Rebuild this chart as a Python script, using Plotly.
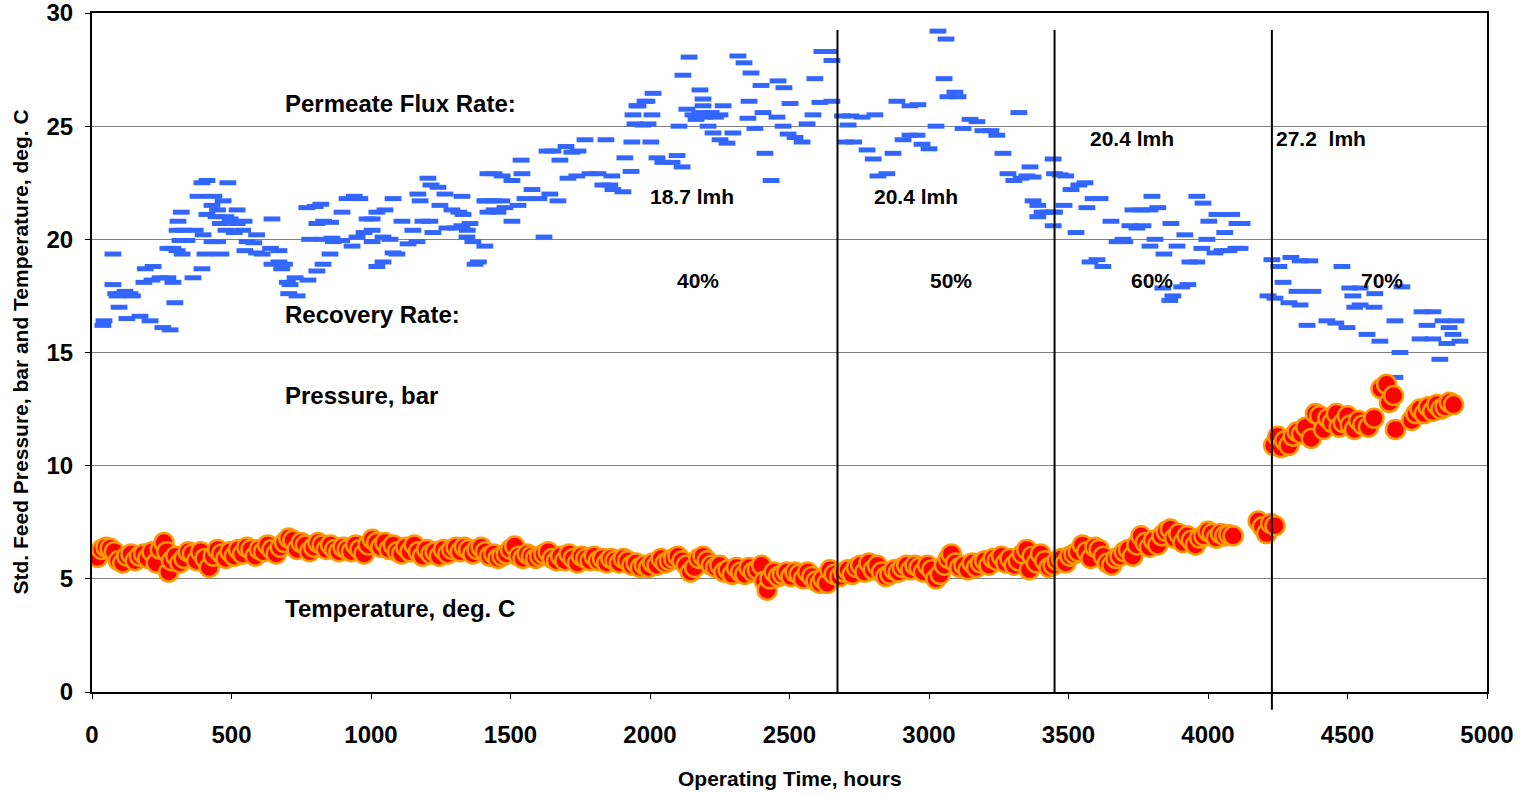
import plotly.graph_objects as go

# ---------------- data ----------------
# blue dash series
flux_hours = [
    39, 43, 75, 75, 85, 90, 105, 118, 136, 145, 97, 125, 172, 208, 254, 280,
    186, 215, 244, 272, 290, 191, 219, 297,
    272, 290, 305, 315, 340, 323, 362, 394,
    305, 330, 370, 398, 308, 320, 380, 394, 412, 437, 487,
    430, 450, 470, 412, 445, 480, 495, 520,
    460, 500, 520, 545, 480, 510, 540,
    405, 462, 430, 450,
    556, 580, 590, 645,
    548, 590, 610, 640, 670,
    645, 670, 690, 680,
    700, 710, 705, 735, 728, 774,
    770, 800, 820, 806, 830, 855,
    780, 830, 860, 865, 895,
    806, 828, 853,
    896, 914, 940, 960,
    932, 950, 975, 1004, 986, 1004,
    1004, 1021, 1043, 1021, 1050,
    1043, 1068, 1079, 1093, 1079, 1111,
    1133, 1165, 1150, 1168, 1176, 1186, 1211,
    1204, 1215, 1240, 1265,
    1222, 1247, 1290, 1315, 1330,
    1272, 1301, 1326, 1355, 1345,
    1326, 1344, 1365, 1373, 1385, 1408, 1408, 1419, 1419,
    1415, 1440, 1469, 1441, 1455, 1480, 1505,
    1441, 1470, 1505, 1541,
    1527, 1552, 1577, 1602, 1641, 1670,
    1620, 1538,
    1631, 1652, 1677, 1699, 1720, 1742, 1767,
    1706, 1738, 1785, 1813, 1863,
    1831, 1856, 1867, 1903,
    1842, 1910, 1935, 1932,
    1939, 1946, 1975, 1993, 1953, 1982, 2007, 2003,
    1957, 1989, 2011,
    2025, 2046, 2079, 2097, 2115,
    2104, 2132, 2118, 2140, 2179, 2190,
    2154, 2179, 2197, 2219, 2251, 2165, 2235,
    2190, 2262, 2208, 2226, 2251, 2276, 2297,
    2315, 2337, 2362, 2398, 2459, 2480,
    2351, 2376, 2355, 2412, 2434,
    2405, 2455, 2477, 2502,
    2495, 2520, 2545, 2563, 2584, 2609, 2591,
    2616, 2640, 2652, 2652,
    2690, 2720, 2760, 2806, 2710,
    2700, 2730, 2778, 2800,
    2817, 2849, 2871, 2885,
    2907, 2932, 2957, 2932, 2960,
    2975, 3000, 3025, 3032, 3061, 3054,
    3068, 3093, 3104, 3122, 3147, 3172,
    3193, 3222, 3243, 3265,
    3283, 3304, 3330, 3351, 3373, 3362, 3322,
    3373, 3390, 3390, 3405, 3425, 3441,
    3445, 3450, 3470, 3490, 3445, 3450,
    3509, 3537, 3559, 3484, 3566, 3527,
    3588, 3613, 3652,
    3720, 3745, 3767, 3731, 3760, 3792, 3820, 3799,
    3867, 3917, 3960, 3982, 4003, 4032, 4085, 4060, 4104,
    3695, 3810, 3996,
    3674, 3702, 3792, 3889, 3842, 3935, 3960, 3978,
    4025, 4050, 4075, 4100, 4115,
    3577, 3602, 3623,
    3838, 3863, 3874, 3906, 3928, 4122,
    4229, 4254, 4215, 4240, 4269,
    4297, 4330, 4365, 4319, 4376, 4290, 4330, 4355,
    4426, 4458, 4498, 4480, 4508, 4545, 4519, 4526, 4545,
    4598, 4595, 4570, 4616, 4670, 4695, 4688,
    4767, 4806, 4785, 4760, 4806, 4842, 4889, 4864, 4878, 4856, 4903, 4831, 4670,
]
flux_values = [
    16.2, 16.4, 19.35, 18.0, 17.6, 17.5, 17.6, 17.7, 17.6, 17.5, 17.0, 16.5, 16.6, 16.4, 16.1, 16.0,
    18.1, 18.2, 18.3, 18.3, 18.1, 18.7, 18.8, 17.2,
    19.6, 19.6, 19.5, 19.95, 19.95, 19.35, 18.3, 18.7,
    20.4, 20.4, 20.4, 20.2, 20.8, 21.2, 21.9, 22.5, 22.6, 21.9, 22.5,
    21.5, 21.3, 21.7, 21.1, 21.0, 21.0, 20.9, 21.3,
    20.7, 20.8, 20.7, 20.8, 20.4, 20.3, 20.4,
    19.35, 19.35, 19.9, 19.9,
    19.9, 19.85, 20.2, 20.9,
    19.5, 19.4, 19.35, 19.6, 19.5,
    18.9, 19.0, 18.9, 18.7,
    18.1, 18.0, 17.6, 17.5, 18.3, 18.2,
    21.4, 21.45, 21.55, 20.7, 20.8, 20.75,
    20.0, 20.0, 20.05, 19.9, 19.95,
    18.6, 18.9, 19.35,
    21.2, 21.8, 21.9, 21.8,
    19.7, 20.1, 20.3, 20.4, 20.9, 20.9,
    19.9, 18.8, 19.0, 21.2, 21.3,
    20.1, 20.0, 19.4, 19.35, 21.8, 20.8,
    19.8, 19.9, 20.4, 22.0, 21.7, 20.8, 20.8,
    22.7, 22.4, 22.3, 22.0,
    20.3, 21.5, 21.3, 21.2, 21.1,
    20.5, 20.5, 20.6, 20.7, 20.4,
    21.9, 20.1, 19.9, 18.9, 19.0, 19.7, 21.7, 22.9, 21.2,
    21.7, 21.7, 21.7, 21.3, 21.2, 21.4, 20.8,
    22.9, 22.8, 22.6, 22.9,
    21.5, 21.8, 22.2, 21.8, 22.0, 21.7,
    20.1, 23.5,
    23.9, 23.9, 23.5, 24.1, 23.85, 23.9, 24.4,
    22.7, 22.8, 22.9, 22.9, 22.8,
    22.4, 22.4, 22.2, 22.1,
    24.4, 23.6, 24.3, 23.0,
    25.5, 25.1, 25.05, 25.1, 25.9, 26.1, 25.5, 24.3,
    25.9, 26.1, 26.45,
    23.6, 23.4, 23.4, 23.7, 23.2,
    25.0, 25.75, 27.25, 28.05, 26.6, 26.2,
    25.5, 25.6, 25.4, 25.6, 25.5, 25.3, 25.4,
    25.9, 25.9, 25.0, 24.7, 24.4, 24.25, 24.7,
    28.1, 27.8, 27.35, 26.8, 27.0, 26.7,
    25.35, 24.9, 26.1, 23.8, 22.6,
    25.6, 25.4, 25.0, 26.0,
    24.65, 24.5, 24.3, 25.1, 25.5, 26.05, 27.1,
    28.3, 28.3, 27.9, 26.1,
    25.45, 25.45, 25.4, 25.5, 25.05,
    24.3, 24.3, 23.95, 23.55,
    22.8, 22.9, 23.8, 26.1,
    24.4, 24.6, 24.6, 25.9, 25.95,
    24.2, 24.0, 25.0, 29.2, 28.85, 27.1,
    26.3, 26.5, 26.3, 24.9, 25.3, 25.2,
    24.8, 24.8, 24.6, 23.8,
    22.9, 22.6, 22.7, 22.8, 22.75, 23.2, 25.6,
    21.7, 21.5, 21.0, 21.2, 21.2, 21.2,
    23.55, 22.9, 22.85, 22.8, 20.6, 21.2,
    22.2, 22.4, 22.5, 21.5, 21.4, 20.3,
    21.8, 21.8, 20.8,
    20.6, 20.5, 20.6, 21.3, 21.3, 21.3, 21.4, 21.9,
    20.7, 20.2, 21.9, 21.6, 20.8, 21.1, 21.1, 20.3, 20.7,
    20.0, 20.0, 20.0,
    19.9, 19.9, 19.7, 19.7, 19.35, 19.0, 19.0, 19.6,
    19.4, 19.5, 19.5, 19.6, 19.6,
    19.0, 19.1, 18.8,
    17.85, 17.3, 17.5, 17.9, 18.0, 20.7,
    19.1, 18.8, 17.5, 17.4, 18.1,
    19.2, 19.05, 19.05, 17.7, 17.7, 17.2, 17.1, 16.2,
    16.4, 16.3, 16.1, 18.8, 17.85, 17.85, 17.5, 17.0, 17.1,
    17.6, 17.0, 15.8, 15.5, 16.4, 17.9, 15.0,
    16.8, 16.8, 16.2, 15.6, 15.6, 16.4, 16.4, 16.1, 15.8, 15.4, 15.5, 14.7, 13.9,
]

# red/orange circle series
pressure_hours = [
    20, 35, 50, 65, 80, 95, 110, 125, 140, 155, 170, 185, 200, 215, 230, 245, 258, 268, 275, 285, 300,
    315, 330, 345, 360, 375, 390, 405, 420, 435, 450, 465, 480, 495, 510, 525, 540, 555, 570, 585,
    600, 615, 630, 645, 660, 675, 690, 705, 720, 735, 750,
    765, 780, 795, 810, 825, 840, 855, 870, 885, 900, 915, 930, 945, 960, 975, 990, 1005, 1020,
    1035, 1050, 1065, 1080, 1095,
    1110, 1125, 1140, 1155, 1170, 1185, 1200, 1215, 1230, 1245, 1260, 1275, 1290, 1305, 1320, 1335,
    1350, 1365, 1380, 1395, 1410, 1425, 1440, 1455, 1470, 1485, 1500, 1515, 1530, 1545, 1560, 1575, 1590,
    1605, 1620, 1635, 1650, 1665, 1680, 1695, 1710, 1725, 1740, 1755, 1770, 1785, 1800, 1815, 1830,
    1845, 1860, 1875, 1890, 1905, 1920, 1935, 1950, 1965, 1980, 1995,
    2010, 2025, 2040, 2055, 2070, 2085, 2100, 2115, 2130, 2145, 2160, 2175, 2190, 2205, 2220, 2235,
    2250, 2265, 2280, 2295, 2310, 2325, 2340, 2355, 2370, 2385, 2400, 2410, 2420, 2430, 2445, 2460,
    2475, 2490, 2505, 2520, 2535, 2550, 2565, 2580, 2595, 2610, 2620, 2635, 2645, 2660,
    2680, 2695, 2710, 2725, 2740, 2755, 2770, 2785, 2800, 2815, 2830, 2845, 2860, 2875, 2890, 2905,
    2920, 2935, 2950, 2965, 2980, 2995, 3010, 3025, 3040, 3055, 3070, 3080, 3095, 3110, 3125, 3140,
    3155, 3170, 3185, 3200, 3215, 3230, 3245, 3260, 3275, 3290, 3305, 3320, 3335, 3350, 3360, 3370,
    3385, 3400, 3415, 3430, 3445,
    3460, 3475, 3490, 3505, 3520, 3535, 3550, 3565, 3580, 3595, 3610, 3625, 3640, 3655, 3670, 3685,
    3700, 3715, 3730, 3745, 3760, 3775, 3790, 3805, 3820, 3835, 3850, 3865, 3880, 3895, 3910, 3925,
    3940, 3955, 3970, 3985, 4000, 4015, 4030, 4045, 4060, 4075, 4090,
    4180, 4195, 4210, 4225, 4240,
    4235, 4250, 4262, 4275, 4290, 4305, 4320, 4335, 4350, 4370, 4385, 4400, 4415, 4430, 4445, 4460,
    4470, 4485, 4500, 4510, 4525, 4540, 4555, 4575, 4595, 4620, 4640, 4650, 4665, 4672,
    4730, 4745, 4760, 4775, 4790, 4805, 4820, 4835, 4850, 4865, 4880,
]
pressure_values = [
    5.95, 6.3, 6.4, 6.35, 6.2, 5.8, 5.7, 6.0, 6.1, 5.8, 6.0, 6.1, 5.9, 6.2, 5.7, 6.3, 6.6, 6.2, 5.3, 5.8, 6.0,
    5.7, 5.9, 6.2, 6.1, 5.8, 6.2, 5.9, 5.5, 6.0, 6.3, 6.1, 5.9, 6.2, 6.0, 6.3, 6.1, 6.4, 6.3, 6.0,
    6.3, 6.2, 6.5, 6.3, 6.1, 6.4, 6.6, 6.8, 6.7, 6.3, 6.6,
    6.5, 6.2, 6.4, 6.6, 6.5, 6.3, 6.5, 6.3, 6.2, 6.4, 6.3, 6.2, 6.5, 6.3, 6.1, 6.5, 6.75, 6.6,
    6.4, 6.6, 6.3, 6.5, 6.2,
    6.1, 6.4, 6.2, 6.5, 6.2, 6.0, 6.3, 6.1, 6.2, 6.0, 6.3, 6.1, 6.3, 6.4, 6.2, 6.4,
    6.3, 6.1, 6.3, 6.4, 6.2, 6.0, 6.1, 5.9, 6.0, 6.1, 6.3, 6.45, 6.0, 5.9, 6.1, 6.0, 5.9,
    6.0, 6.1, 6.2, 5.9, 5.8, 6.0, 5.8, 6.1, 5.9, 5.7, 6.0, 5.9, 5.8, 6.0, 5.8, 5.9,
    5.7, 5.9, 5.8, 5.7, 5.9, 5.8, 5.6, 5.7, 5.5, 5.6, 5.5,
    5.7, 5.6, 5.9, 5.7, 5.8, 5.9, 6.0, 5.8, 5.6, 5.3, 5.5, 5.9, 6.0, 5.8, 5.6, 5.5,
    5.6, 5.3, 5.4, 5.2, 5.5, 5.3, 5.2, 5.5, 5.3, 5.4, 5.6, 4.9, 4.5, 5.0, 5.3, 5.1,
    5.2, 5.3, 5.1, 5.3, 5.2, 5.0, 5.3, 5.1, 4.9, 4.8, 5.0, 4.8, 5.4, 5.2,
    5.1, 5.3, 5.4, 5.2, 5.5, 5.6, 5.3, 5.7, 5.4, 5.6, 5.3, 5.1, 5.2, 5.4, 5.3, 5.5,
    5.6, 5.4, 5.6, 5.5, 5.3, 5.6, 5.4, 5.0, 5.2, 5.6, 5.9, 6.1, 5.7, 5.5, 5.6, 5.4,
    5.7, 5.5, 5.7, 5.8, 5.6, 5.9, 5.8, 6.0, 5.7, 5.9, 5.6, 5.8, 6.1, 6.3, 5.4, 6.0,
    5.7, 6.1, 5.8, 5.5, 5.6,
    5.8, 5.9, 5.7, 6.0, 6.1, 6.2, 6.5, 6.2, 5.9, 6.4, 6.3, 6.0, 5.7, 5.6, 5.9, 6.0,
    6.2, 6.3, 6.0, 6.5, 6.9, 6.6, 6.4, 6.7, 6.5, 6.9, 7.1, 7.2, 6.8, 7.0, 6.6, 6.9,
    6.7, 6.5, 6.8, 6.9, 7.1, 7.0, 6.8, 7.0, 6.9, 6.95, 6.9,
    7.55, 7.3, 7.0, 7.45, 7.35,
    10.9, 11.3, 10.8, 11.1, 10.9, 11.3, 11.5, 11.4, 11.7, 11.2, 12.3, 12.2, 11.6, 12.1, 11.9, 12.3,
    11.7, 11.9, 12.2, 11.8, 11.6, 12.0, 11.8, 11.7, 12.1, 13.4, 13.6, 12.8, 13.1, 11.6,
    12.0, 12.3, 12.5, 12.3, 12.6, 12.4, 12.7, 12.5, 12.6, 12.8, 12.7,
]

# phase boundaries (hours) and annotation texts
phase_changes = [2672, 3450, 4229]
side_labels = ["Permeate Flux Rate:", "Recovery Rate:", "Pressure, bar", "Temperature, deg. C"]
side_label_y = [26.0, 16.7, 13.1, 3.7]
flux_labels = ["18.7 lmh", "20.4 lmh", "20.4 lmh", "27.2\u00a0 lmh"]
flux_label_x = [2150, 2953, 3727, 4405]
flux_label_y = [21.9, 21.9, 24.45, 24.45]
recovery_labels = ["40%", "50%", "60%", "70%"]
recovery_label_x = [2172, 3079, 3800, 4623]
recovery_label_y = [18.2, 18.2, 18.2, 18.2]

x_ticks = [0, 500, 1000, 1500, 2000, 2500, 3000, 3500, 4000, 4500, 5000]
y_ticks = [0, 5, 10, 15, 20, 25, 30]

FONT = "Liberation Sans, Arial, sans-serif"

fig = go.Figure()

fig.add_trace(go.Scatter(
    x=flux_hours, y=flux_values, mode="markers",
    marker=dict(symbol="line-ew", size=12, line=dict(width=5, color="rgb(51,102,255)")),
    showlegend=False, hoverinfo="x+y",
))

fig.add_trace(go.Scatter(
    x=pressure_hours, y=pressure_values, mode="markers",
    marker=dict(symbol="circle", size=19, color="#FF0000",
                line=dict(width=2.5, color="#FF9900")),
    showlegend=False, hoverinfo="x+y",
))

shapes = []
for i, xv in enumerate(phase_changes):
    shapes.append(dict(type="line", xref="x", yref="paper", x0=xv, x1=xv,
                       y0=(-0.026 if i == 2 else 0), y1=0.975,
                       line=dict(color="black", width=2), layer="above"))

annotations = []
for t, yv in zip(side_labels, side_label_y):
    annotations.append(dict(x=685, y=yv, xref="x", yref="y", text=t, showarrow=False,
                            xanchor="left", yanchor="middle",
                            font=dict(family=FONT, size=24, color="black", weight="bold")))
for t, xv, yv in zip(flux_labels, flux_label_x, flux_label_y):
    annotations.append(dict(x=xv, y=yv, xref="x", yref="y", text=t, showarrow=False,
                            xanchor="center", yanchor="middle",
                            font=dict(family=FONT, size=21, color="black", weight="bold")))
for t, xv, yv in zip(recovery_labels, recovery_label_x, recovery_label_y):
    annotations.append(dict(x=xv, y=yv, xref="x", yref="y", text=t, showarrow=False,
                            xanchor="center", yanchor="middle",
                            font=dict(family=FONT, size=21, color="black", weight="bold")))
# axis titles
annotations.append(dict(x=0.5, y=0, xref="paper", yref="paper", yshift=-86,
                        text="Operating Time, hours", showarrow=False,
                        xanchor="center", yanchor="middle",
                        font=dict(family=FONT, size=21, color="black", weight="bold")))
annotations.append(dict(x=0, y=0.5, xref="paper", yref="paper", xshift=-72,
                        text="Std. Feed Pressure, bar and Temperature, deg. C", showarrow=False,
                        textangle=-90, xanchor="center", yanchor="middle",
                        font=dict(family=FONT, size=21, color="black", weight="bold")))

fig.update_layout(
    width=1533, height=795,
    margin=dict(l=92, r=46, t=13, b=103, pad=0, autoexpand=False),
    paper_bgcolor="white", plot_bgcolor="white",
    font=dict(family=FONT, color="black"),
    shapes=shapes, annotations=annotations,
    showlegend=False,
)
fig.update_xaxes(
    range=[0, 5000], tickvals=x_ticks, ticktext=[str(v) for v in x_ticks],
    showgrid=False, zeroline=False, automargin=False,
    showline=True, linecolor="black", linewidth=2, mirror=True,
    ticks="outside", ticklen=5, tickcolor="black", tickwidth=1,
    tickfont=dict(family=FONT, size=24, color="black", weight="bold"),
    ticklabelstandoff=15, ticklabeloverflow="allow",
)
fig.update_yaxes(
    range=[0, 30], tickvals=y_ticks, ticktext=[str(v) for v in y_ticks],
    showgrid=True, gridcolor="#808080", gridwidth=1, zeroline=False, automargin=False,
    showline=True, linecolor="black", linewidth=2, mirror=True,
    ticks="outside", ticklen=5, tickcolor="black", tickwidth=1,
    tickfont=dict(family=FONT, size=24, color="black", weight="bold"),
    ticklabelstandoff=7, ticklabeloverflow="allow",
)

fig.write_html("out.html")
